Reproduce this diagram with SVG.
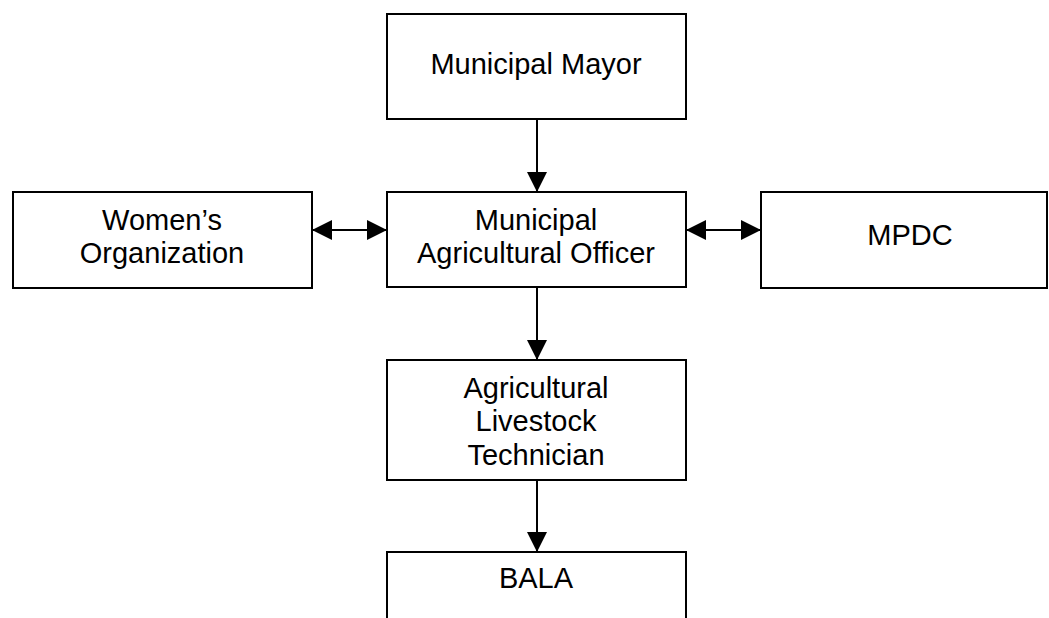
<svg xmlns="http://www.w3.org/2000/svg" width="1049" height="618" viewBox="0 0 1049 618">
<defs>
<style>
.box{fill:#fff;stroke:#000;stroke-width:2}
.t{font-family:"Liberation Sans",Arial,sans-serif;font-size:29px;fill:#000;text-anchor:middle}
.c{stroke:#000;stroke-width:2;fill:none}
</style>
<marker id="ah" viewBox="0 0 20 20" refX="20" refY="10" markerWidth="20" markerHeight="20" markerUnits="userSpaceOnUse" orient="auto-start-reverse">
<path d="M0,0 L20,10 L0,20 Z" fill="#000"/>
</marker>
</defs>
<rect width="1049" height="618" fill="#fff"/>
<g id="connectors">
<line class="c" x1="537" y1="119" x2="537" y2="192" marker-end="url(#ah)"/>
<line class="c" x1="537" y1="287" x2="537" y2="360" marker-end="url(#ah)"/>
<line class="c" x1="537" y1="480" x2="537" y2="552" marker-end="url(#ah)"/>
<line class="c" x1="312" y1="230" x2="387" y2="230" marker-start="url(#ah)" marker-end="url(#ah)"/>
<line class="c" x1="686" y1="230" x2="761" y2="230" marker-start="url(#ah)" marker-end="url(#ah)"/>
</g>
<g id="mayor">
<rect class="box" x="387" y="14" width="299" height="105"/>
<text class="t" x="536" y="74">Municipal Mayor</text>
</g>
<g id="mao">
<rect class="box" x="387" y="192" width="299" height="95"/>
<text class="t" x="536" y="230">Municipal</text>
<text class="t" x="536" y="263">Agricultural Officer</text>
</g>
<g id="womens">
<rect class="box" x="13" y="192" width="299" height="96"/>
<text class="t" x="162" y="230">Women’s</text>
<text class="t" x="162" y="263">Organization</text>
</g>
<g id="mpdc">
<rect class="box" x="761" y="192" width="286" height="96"/>
<text class="t" x="910" y="245">MPDC</text>
</g>
<g id="alt">
<rect class="box" x="387" y="360" width="299" height="120"/>
<text class="t" x="536" y="398">Agricultural</text>
<text class="t" x="536" y="431">Livestock</text>
<text class="t" x="536" y="465">Technician</text>
</g>
<g id="bala">
<rect class="box" x="387" y="552" width="299" height="80"/>
<text class="t" x="536" y="588">BALA</text>
</g>
</svg>
